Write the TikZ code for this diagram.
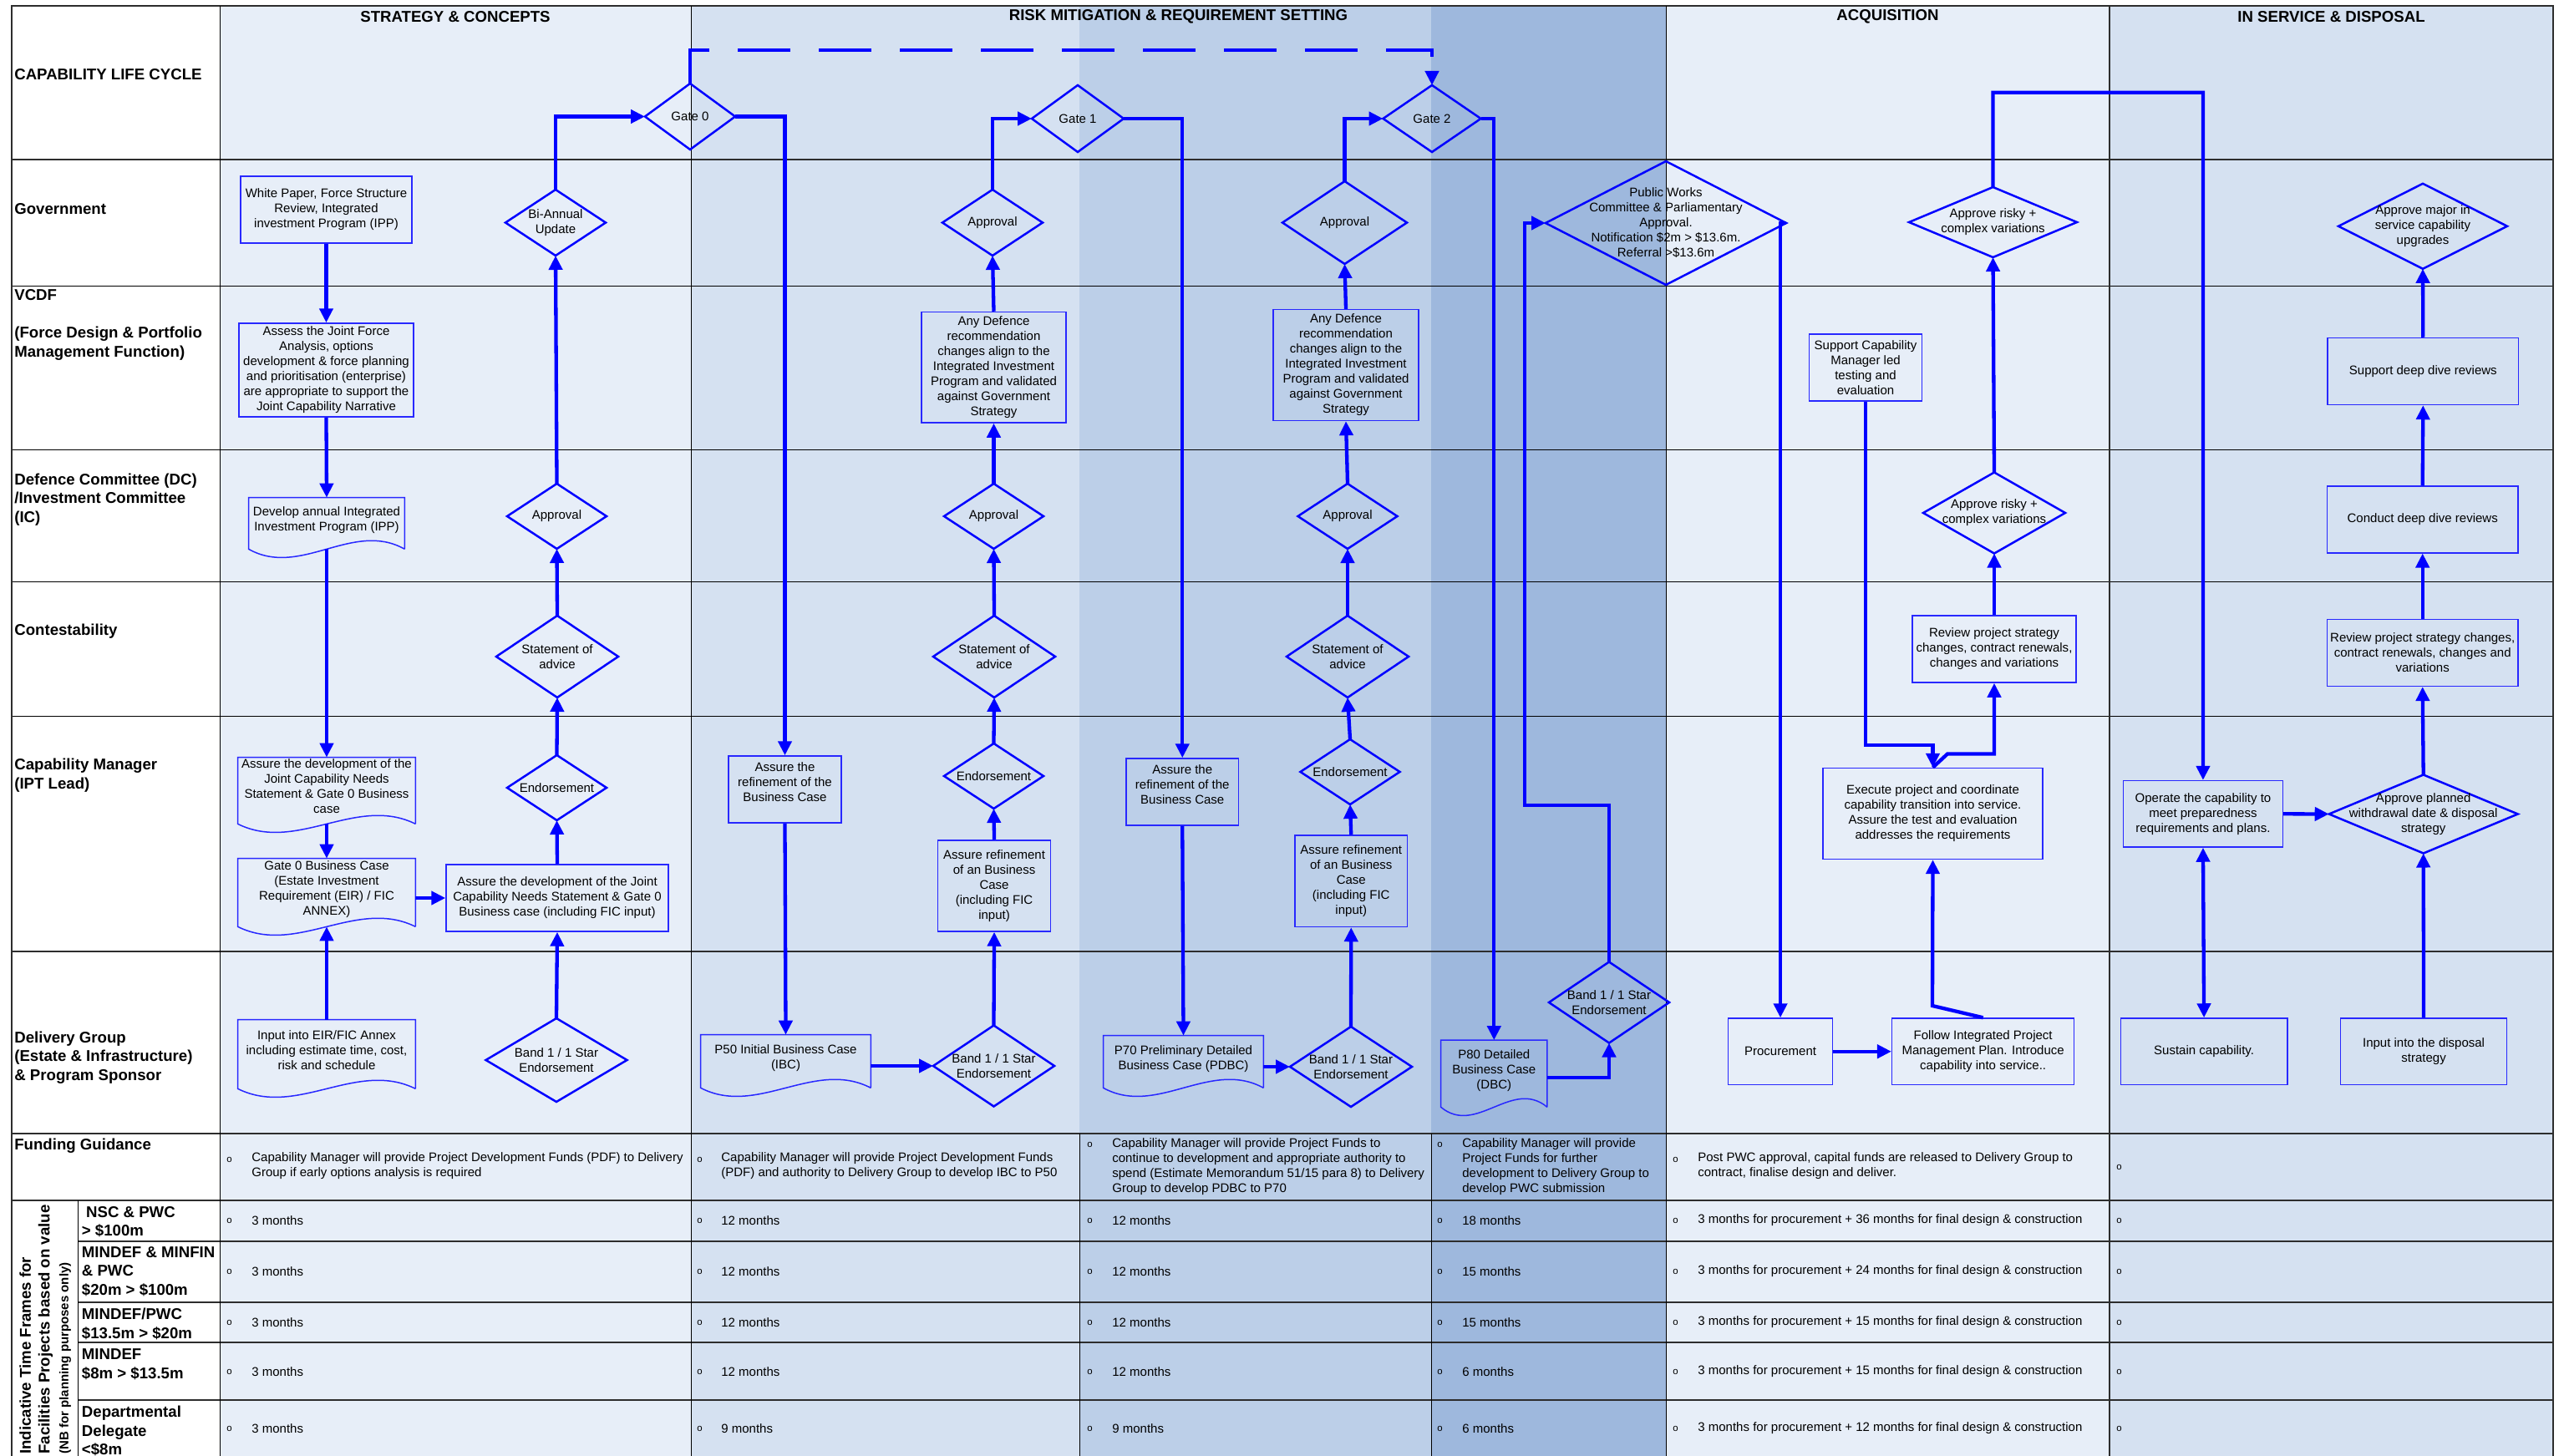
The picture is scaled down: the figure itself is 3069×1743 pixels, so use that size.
\documentclass[tikz,border=0pt]{standalone}
\usepackage{fontspec}
\setmainfont{Liberation Sans}
\usetikzlibrary{arrows.meta,shapes.geometric}

\definecolor{cA}{RGB}{231,238,248}
\definecolor{cB}{RGB}{213,225,241}
\definecolor{cC}{RGB}{188,207,232}
\definecolor{cD}{RGB}{158,184,221}
\definecolor{fl}{RGB}{0,0,255}
\definecolor{bl}{RGB}{40,40,255}
\definecolor{gl}{RGB}{45,45,45}

\newcommand\bfnt{\fontsize{8.54pt}{10.25pt}\selectfont}
\newcommand\lfnt{\fontsize{10.6pt}{12.8pt}\selectfont\bfseries}
\newcommand\ofnt{\fontsize{6.5pt}{8pt}\selectfont}

\tikzset{
 box/.style={draw=bl, line width=0.3mm, inner sep=0pt, align=center, font=\bfnt},
 docbox/.style={inner sep=0pt, align=center, font=\bfnt, text depth=2mm},
 docline/.style={draw=bl, line width=0.3mm},
 dia/.style={diamond, draw=fl, line width=0.5mm, inner sep=0pt, outer sep=0pt},
 dtext/.style={inner sep=0pt, align=center, font=\bfnt},
 flow/.style={draw=fl, line width=0.86mm, ->},
 lab/.style={anchor=west, inner sep=0pt, align=left, font=\lfnt},
 head/.style={inner sep=0pt, font=\lfnt},
 cell/.style={anchor=west, inner sep=0pt, align=left, font=\bfnt},
 bullet/.style={anchor=west, inner sep=0pt, font=\ofnt},
 thinl/.style={draw=black, line width=0.2mm},
 thickl/.style={draw=gl, line width=0.4mm},
}

\newcommand\mkbox[7][]{\node[box,#1,minimum width={(#5-#3)*0.2mm},minimum height={(#6-#4)*0.2mm}] (#2) at ({(#3+#5)/2},{(#4+#6)/2}) {#7};}
\newcommand\mkdoc[6]{%
 \node[docbox,minimum width={(#4-#2)*0.2mm},minimum height={(#5-#3)*0.2mm}] (#1) at ({(#2+#4)/2},{(#3+#5)/2}) {#6};
 \draw[docline] (#1.south east) -- (#1.north east) -- (#1.north west) -- (#1.south west) .. controls +({(#4-#2)/3},35) and +({-(#4-#2)/3},-35) .. (#1.south east);}
\newcommand\mkdia[6]{%
 \node[dia,minimum width={2*#4*0.2mm},minimum height={2*#5*0.2mm}] (#1) at (#2,#3) {};
 \node[dtext] (#1-t) at (#1.center) {#6};}

\begin{document}
\begin{tikzpicture}[x=0.2mm,y=-0.2mm,>={Triangle[length=3.4mm,width=3.2mm]}]
\useasboundingbox (0,0) rectangle (3069,1743);
\fill[white] (0,0) rectangle (3069,1743);
% column shading
\fill[cA] (263.5,7) rectangle (827,1743);
\fill[cB] (827,7) rectangle (1292,1743);
\fill[cC] (1292,7) rectangle (1713,1743);
\fill[cD] (1713,7) rectangle (1994,1743);
\fill[cA] (1994,7) rectangle (2525,1743);
\fill[cB] (2525,7) rectangle (3056,1743);

% grid lines
\foreach \yy in {342,538,696,857} \draw[thinl] (13.5,\yy) -- (3056,\yy);
\foreach \yy in {191,1139,1357,1437} \draw[thickl] (13.5,\yy) -- (3056,\yy);
\foreach \yy in {1485.5,1558.5,1607,1676} \draw[thickl] (93,\yy) -- (3056,\yy);
\draw[thickl] (13.5,1743) -- (13.5,7) -- (3056,7) -- (3056,1743);
\draw[thinl] (263.5,7) -- (263.5,1743);
\draw[thinl] (827,7) -- (827,1743);
\draw[thinl] (1994,7) -- (1994,1743);
\draw[thickl] (2525,7) -- (2525,1743);
\draw[thinl] (1292,1357) -- (1292,1743);
\draw[thinl] (1713,1357) -- (1713,1743);
\draw[thinl] (93,1437) -- (93,1743);

% headers
\node[head] (h1) at (545,20) {STRATEGY \& CONCEPTS};
\node[head] (h2) at (1410.5,20) {RISK MITIGATION \& REQUIREMENT SETTING};
\node[head] (h3) at (2259.5,20) {ACQUISITION};
\node[head] (h4) at (2790.5,20) {IN SERVICE \& DISPOSAL};

% row labels
\node[lab] (l1) at (17,88.6) {CAPABILITY LIFE CYCLE};
\node[lab] (l2) at (17,250) {Government};
\node[lab] (l3) at (17,389) {VCDF\\\mbox{}\\(Force Design \& Portfolio\\Management Function)};
\node[lab] (l4) at (17,598) {Defence Committee (DC)\\/Investment Committee\\(IC)};
\node[lab] (l5) at (17,756) {Contestability};
\node[lab] (l6) at (17,928) {Capability Manager\\(IPT Lead)};
\node[lab] (l7) at (17,1266) {Delivery Group\\(Estate \& Infrastructure)\\\& Program Sponsor};
\node[lab] (l8) at (17,1372) {Funding Guidance};
\node[rotate=90,anchor=north west,align=left,inner sep=0pt,font=\lfnt] (tf) at (23,1741) {Indicative Time Frames for\\Facilities Projects based on value\\{\fontsize{8.54pt}{10pt}\selectfont (NB for planning purposes only)}};
\node[lab] (t1) at (97.6,1462.5) {\hspace*{1.04mm}NSC \& PWC\\> \$100m};
\node[lab] (t2) at (97.6,1522) {MINDEF \& MINFIN\\\& PWC\\\$20m > \$100m};
\node[lab] (t3) at (97.6,1585) {MINDEF/PWC\\\$13.5m > \$20m};
\node[lab] (t4) at (97.6,1633.5) {MINDEF\\\$8m > \$13.5m};
\node[lab] (t5) at (97.6,1713) {Departmental\\Delegate\\<\$8m};

% funding guidance
\node[bullet] (fo1) at (271,1388) {o};
\node[cell] (f1) at (301,1396) {Capability Manager will provide Project Development Funds (PDF) to Delivery\\Group if early options analysis is required};
\node[bullet] (fo2) at (834,1388) {o};
\node[cell] (f2) at (863,1396) {Capability Manager will provide Project Development Funds\\(PDF) and authority to Delivery Group to develop IBC to P50};
\node[bullet] (fo3) at (1301,1370) {o};
\node[cell] (f3) at (1331,1396.5) {Capability Manager will provide Project Funds to\\continue to development and appropriate authority to\\spend (Estimate Memorandum 51/15 para 8) to Delivery\\Group to develop PDBC to P70};
\node[bullet] (fo4) at (1720,1370) {o};
\node[cell] (f4) at (1750,1396.5) {Capability Manager will provide\\Project Funds for further\\development to Delivery Group to\\develop PWC submission};
\node[bullet] (fo5) at (2002,1388) {o};
\node[cell] (f5) at (2032,1396) {Post PWC approval, capital funds are released to Delivery Group to\\contract, finalise design and deliver.};
\node[bullet] (fo6) at (2533,1397) {o};

% time frames
\foreach \yy/\ma/\mb/\mc/\md [count=\i] in {1461/12/12/18/36,1522/12/12/15/24,1583/12/12/15/15,1642/12/12/6/15,1710/9/9/6/12}{
 \node[bullet] (ba\i) at (271,\yy) {o};
 \node[cell] (ma\i) at (301,\yy) {3 months};
 \node[bullet] (bb\i) at (834,\yy) {o};
 \node[cell] (mb\i) at (863,\yy) {\ma\ months};
 \node[bullet] (bc\i) at (1301,\yy) {o};
 \node[cell] (mc\i) at (1331,\yy) {\mb\ months};
 \node[bullet] (bd\i) at (1720,\yy) {o};
 \node[cell] (md\i) at (1750,\yy) {\mc\ months};
 \node[bullet] (be\i) at (2002,\yy) {o};
 \node[cell] (me\i) at (2032,\yy) {3 months for procurement + \md\ months for final design \& construction};
 \node[bullet] (bf\i) at (2533,\yy) {o};
}

% ---------- Strategy & concepts
\mkbox{wp}{288}{211}{493}{291}{White Paper, Force Structure\\Review, Integrated\\investment Program (IPP)}
\mkbox{assess}{286}{387}{495}{499}{Assess the Joint Force\\Analysis, options\\development \& force planning\\and prioritisation (enterprise)\\are appropriate to support the\\Joint Capability Narrative}
\mkdoc{ipp}{298}{596}{484}{657}{Develop annual Integrated\\Investment Program (IPP)}
\mkdoc{ajc}{285}{907}{497}{986}{Assure the development of the\\Joint Capability Needs\\Statement \& Gate 0 Business\\case}
\mkdoc{g0bc}{285}{1028}{497}{1109}{Gate 0 Business Case\\(Estate Investment\\Requirement (EIR) / FIC\\ANNEX)}
\mkbox{ajc2}{534}{1035}{800}{1115}{Assure the development of the Joint\\Capability Needs Statement \& Gate 0\\Business case (including FIC input)}
\mkdoc{input}{285}{1221}{497}{1303}{Input into EIR/FIC Annex\\including estimate time, cost,\\risk and schedule}
\mkdia{band0}{666}{1269}{84.5}{50}{Band 1 / 1 Star\\Endorsement}
\mkdia{endo0}{666.5}{943}{59.5}{39}{Endorsement}
\mkdia{soa0}{667}{786}{73}{49}{Statement of\\advice}
\mkdia{appr0}{666.5}{618}{59.5}{39}{Approval}
\mkdia{biannual}{665}{266.5}{60}{39.5}{Bi-Annual\\Update}
\mkdia{gate0}{826}{139.5}{54}{39.5}{Gate 0}

% ---------- Risk mitigation
\mkbox[text depth=3.6mm]{ref1}{872}{905}{1007}{985}{Assure the\\refinement of the\\Business Case}
\mkdoc{p50}{839}{1239}{1042}{1302}{P50 Initial Business Case\\(IBC)}
\mkdia{band1}{1189.5}{1276}{72.5}{48.5}{Band 1 / 1 Star\\Endorsement}
\mkbox{ar1}{1122.6}{1006}{1257.5}{1115}{Assure refinement\\of an Business\\Case\\(including FIC\\input)}
\mkdia{endo1}{1189.5}{929}{59.5}{39}{Endorsement}
\mkdia{soa1}{1190}{786}{73}{49}{Statement of\\advice}
\mkdia{appr1b}{1189.5}{618}{59.5}{39}{Approval}
\mkbox{dd1}{1103}{373.5}{1276}{506}{Any Defence\\recommendation\\changes align to the\\Integrated Investment\\Program and validated\\against Government\\Strategy}
\mkdia{appr1}{1188}{266.5}{60}{39.5}{Approval}
\mkdia{gate1}{1290}{142}{55}{40}{Gate 1}
\mkbox[text depth=3.6mm]{ref2}{1348}{908}{1482.5}{988}{Assure the\\refinement of the\\Business Case}
\mkdoc{p70}{1321}{1240}{1512}{1302}{P70 Preliminary Detailed\\Business Case (PDBC)}
\mkdia{band2}{1617}{1277}{73}{48}{Band 1 / 1 Star\\Endorsement}
\mkbox{ar2}{1550}{1000}{1684.5}{1109.5}{Assure refinement\\of an Business\\Case\\(including FIC\\input)}
\mkdia{endo2}{1616}{924}{59.5}{39}{Endorsement}
\mkdia{soa2}{1613}{786}{73}{49}{Statement of\\advice}
\mkdia{appr2b}{1613}{618}{59.5}{39}{Approval}
\mkbox{dd2}{1524}{370.6}{1698}{503.5}{Any Defence\\recommendation\\changes align to the\\Integrated Investment\\Program and validated\\against Government\\Strategy}
\mkdia{appr2}{1609.5}{266.5}{74.5}{49.5}{Approval}
\mkdia{gate2}{1714}{142}{58.5}{40}{Gate 2}
\mkdoc{p80}{1725}{1245.5}{1851.6}{1325}{P80 Detailed\\Business Case\\(DBC)}
\mkdia{band3}{1926}{1200}{72}{48.5}{Band 1 / 1 Star\\Endorsement}
\mkdia{pwc}{1994}{267}{144}{74}{Public Works\\Committee \& Parliamentary\\Approval.\\Notification \$2m > \$13.6m.\\Referral >\$13.6m}

% ---------- Acquisition
\mkbox{support}{2165.5}{400}{2300.5}{480}{Support Capability\\Manager led\\testing and\\evaluation}
\mkbox{exec}{2181.8}{919.5}{2445.2}{1028.4}{Execute project and coordinate\\capability transition into service.\\Assure the test and evaluation\\addresses the requirements}
\mkbox{review}{2289}{737}{2485}{817}{Review project strategy\\changes, contract renewals,\\changes and variations}
\mkbox{proc}{2068.5}{1219}{2193.6}{1298.5}{Procurement}
\mkbox{follow}{2264.7}{1219}{2482.6}{1298.5}{Follow Integrated Project\\Management Plan. Introduce\\capability into service..}
\mkdia{appv2}{2387}{614}{85}{48.5}{Approve risky +\\complex variations}
\mkdia{appv1}{2385.5}{266}{100.5}{42}{Approve risky +\\complex variations}

% ---------- In service
\mkbox{operate}{2541.6}{934.6}{2732.3}{1014}{Operate the capability to\\meet preparedness\\requirements and plans.}
\mkdia{apd}{2900.7}{974.5}{113}{47}{Approve planned\\withdrawal date \& disposal\\strategy}
\mkbox{sustain}{2538.4}{1219}{2737.8}{1298.5}{Sustain capability.}
\mkbox{inputd}{2801.4}{1219}{3000.7}{1298.5}{Input into the disposal\\strategy}
\mkbox{review2}{2785.6}{741.7}{3013.8}{821.4}{Review project strategy changes,\\contract renewals, changes and\\variations}
\mkbox{conduct}{2785.6}{582}{3013.8}{661.8}{Conduct deep dive reviews}
\mkbox{support2}{2786}{404.5}{3014.6}{484.5}{Support deep dive reviews}
\mkdia{appmaj}{2900}{270.8}{101}{51}{Approve major in\\service capability\\upgrades}

% helper coordinates
\coordinate (d1) at (826,60);
\coordinate (k1) at (1825,964);
\coordinate (k3) at (2637,110.7);
\coordinate (k4) at (2313,1204);
\coordinate (k5) at (2331,902.5);

% ---------- connectors: strategy
\draw[flow] (wp.south) -- (assess.north);
\draw[flow] (assess.south) -- (ipp.north);
\draw[flow] (ipp.south) -- (ajc.north);
\draw[flow] (ajc.south) -- (g0bc.north);
\draw[flow] (input.north) -- (g0bc.south);
\draw[flow] (ajc2.west -| g0bc.east) -- (ajc2.west);
\draw[flow] (band0.north) -- (ajc2.south);
\draw[flow] (ajc2.north) -- (endo0.south);
\draw[flow] (endo0.north) -- (soa0.south);
\draw[flow] (soa0.north) -- (appr0.south);
\draw[flow] (appr0.north) -- (biannual.south);
\draw[flow] (biannual.north) |- (gate0.west);
\draw[flow,dash pattern=on 12.6mm off 6.8mm] (gate0.north) -- (d1) -| (gate2.north);

% ---------- connectors: risk
\draw[flow] (gate0.east) -| (ref1.north);
\draw[flow] (ref1.south) -- (p50.north);
\draw[flow] (band1.west -| p50.east) -- (band1.west);
\draw[flow] (band1.north) -- (ar1.south);
\draw[flow] (ar1.north) -- (endo1.south);
\draw[flow] (endo1.north) -- (soa1.south);
\draw[flow] (soa1.north) -- (appr1b.south);
\draw[flow] (appr1b.north) -- (dd1.south);
\draw[flow] (dd1.north) -- (appr1.south);
\draw[flow] (appr1.north) |- (gate1.west);
\draw[flow] (gate1.east) -| (ref2.north);
\draw[flow] (ref2.south) -- (p70.north);
\draw[flow] (band2.west -| p70.east) -- (band2.west);
\draw[flow] (band2.north) -- (ar2.south);
\draw[flow] (ar2.north) -- (endo2.south);
\draw[flow] (endo2.north) -- (soa2.south);
\draw[flow] (soa2.north) -- (appr2b.south);
\draw[flow] (appr2b.north) -- (dd2.south);
\draw[flow] (dd2.north) -- (appr2.south);
\draw[flow] (appr2.north) |- (gate2.west);
\draw[flow] (gate2.east) -| (p80.north);
\draw[flow] ([yshift=-1mm]p80.east) -| (band3.south);
\draw[flow] (band3.north) |- (k1) |- (pwc.west);

% ---------- connectors: acquisition
\draw[flow] (pwc.east) -| (proc.north);
\draw[flow] (proc.east) -- (follow.west);
\draw[flow] (follow.north) -- (k4) -- (exec.south);
\draw[flow] (support.south) |- ([yshift=5.3mm]exec.north) -- (exec.north);
\draw[flow] (exec.north) -- (k5) -| (review.south);
\draw[flow] (review.north) -- (appv2.south);
\draw[flow] (appv2.north) -- (appv1.south);
\draw[flow] (appv1.north) |- (k3) -- (operate.north);

% ---------- connectors: in service
\draw[flow] (operate.east) -- (apd.west);
\draw[flow,<->] (operate.south) -- (sustain.north);
\draw[flow] (inputd.north) -- (apd.south);
\draw[flow] (apd.north) -- (review2.south);
\draw[flow] (review2.north) -- (conduct.south);
\draw[flow] (conduct.north) -- (support2.south);
\draw[flow] (support2.north) -- (appmaj.south);
\end{tikzpicture}
\end{document}
